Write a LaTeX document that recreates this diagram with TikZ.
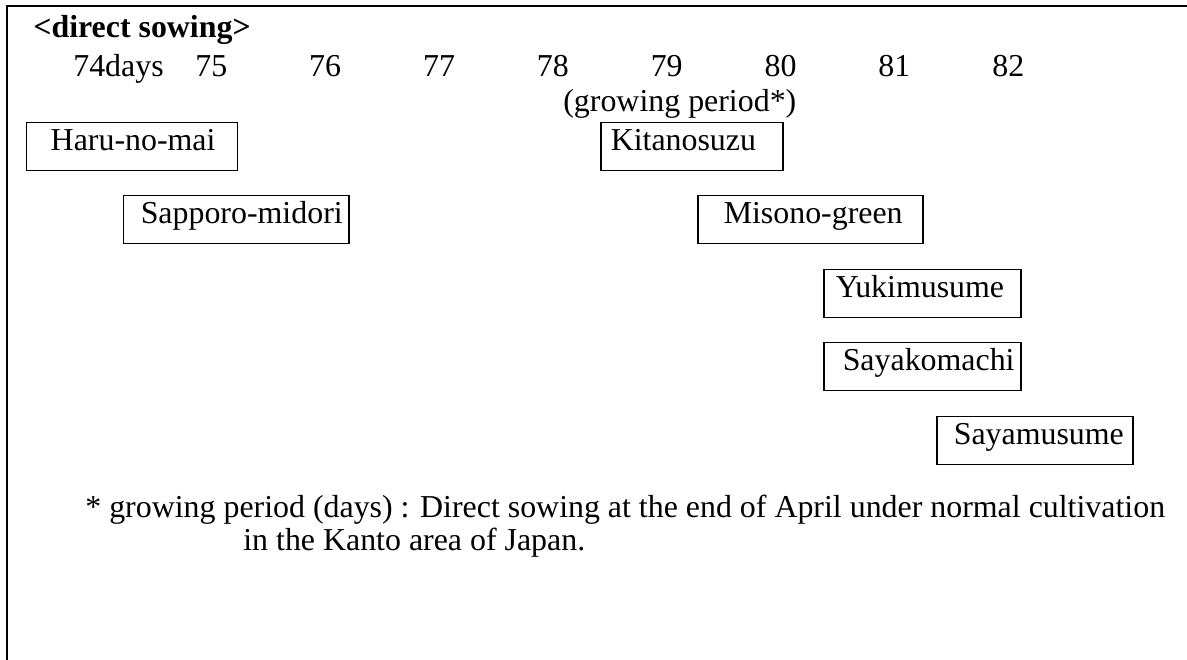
\documentclass[tikz,border=0pt]{standalone}
\usepackage{fontspec}
\setmainfont{Liberation Serif}
\usetikzlibrary{positioning}

\begin{document}
\begin{tikzpicture}[
    labelnode/.style={anchor=base west, inner sep=0pt, font=\fontsize{18.15}{22}\selectfont},
    variety/.style={draw, line width=0.85pt, anchor=north west, inner sep=0pt,
        align=left, text height=0.56cm, text depth=0.40cm, font=\fontsize{18.15}{22}\selectfont}
]
\useasboundingbox (0,0) rectangle (23.74,-13.2);

% Frame (top and left only)
\draw[line width=1.1pt] (23.74,-0.12) -- (0.14,-0.12) -- (0.14,-13.2);

% Heading and day scale
\node[labelnode, font=\fontsize{18.15}{22}\selectfont\bfseries] (head) at (0.66,-0.76) {<direct sowing>};
\node[labelnode] (days) at (1.46,-1.54) {74days};
\foreach \d [count=\i from 0] in {75,...,82} {
    \node[labelnode] (d\d) at (3.90+2.277*\i,-1.54) {\d};
}
\node[labelnode] (period) at (11.26,-2.24) {(growing period*)};

% Varieties
\node[variety, text width=4.22cm] (haru) at (0.52,-2.44) {\hspace*{0.48cm}Haru-no-mai};
\node[variety, text width=4.50cm] (sapporo) at (2.46,-3.90) {\hspace*{0.34cm}Sapporo-midori};
\node[variety, text width=3.64cm] (kitanosuzu) at (12.00,-2.44) {\hspace*{0.20cm}Kitanosuzu};
\node[variety, text width=4.50cm] (misono) at (13.94,-3.90) {\hspace*{0.52cm}Misono-green};
\node[variety, text width=3.94cm] (yukimusume) at (16.46,-5.38) {\hspace*{0.24cm}Yukimusume};
\node[variety, text width=3.94cm] (sayakomachi) at (16.46,-6.84) {\hspace*{0.38cm}Sayakomachi};
\node[variety, text width=3.92cm] (sayamusume) at (18.72,-8.32) {\hspace*{0.34cm}Sayamusume};

% Footnote
\node[labelnode] (note1) at (1.70,-10.34) {* growing period (days) : Direct sowing at the end of April under normal cultivation};
\node[labelnode] (note2) at (4.86,-11.00) {in the Kanto area of Japan.};

\end{tikzpicture}
\end{document}
